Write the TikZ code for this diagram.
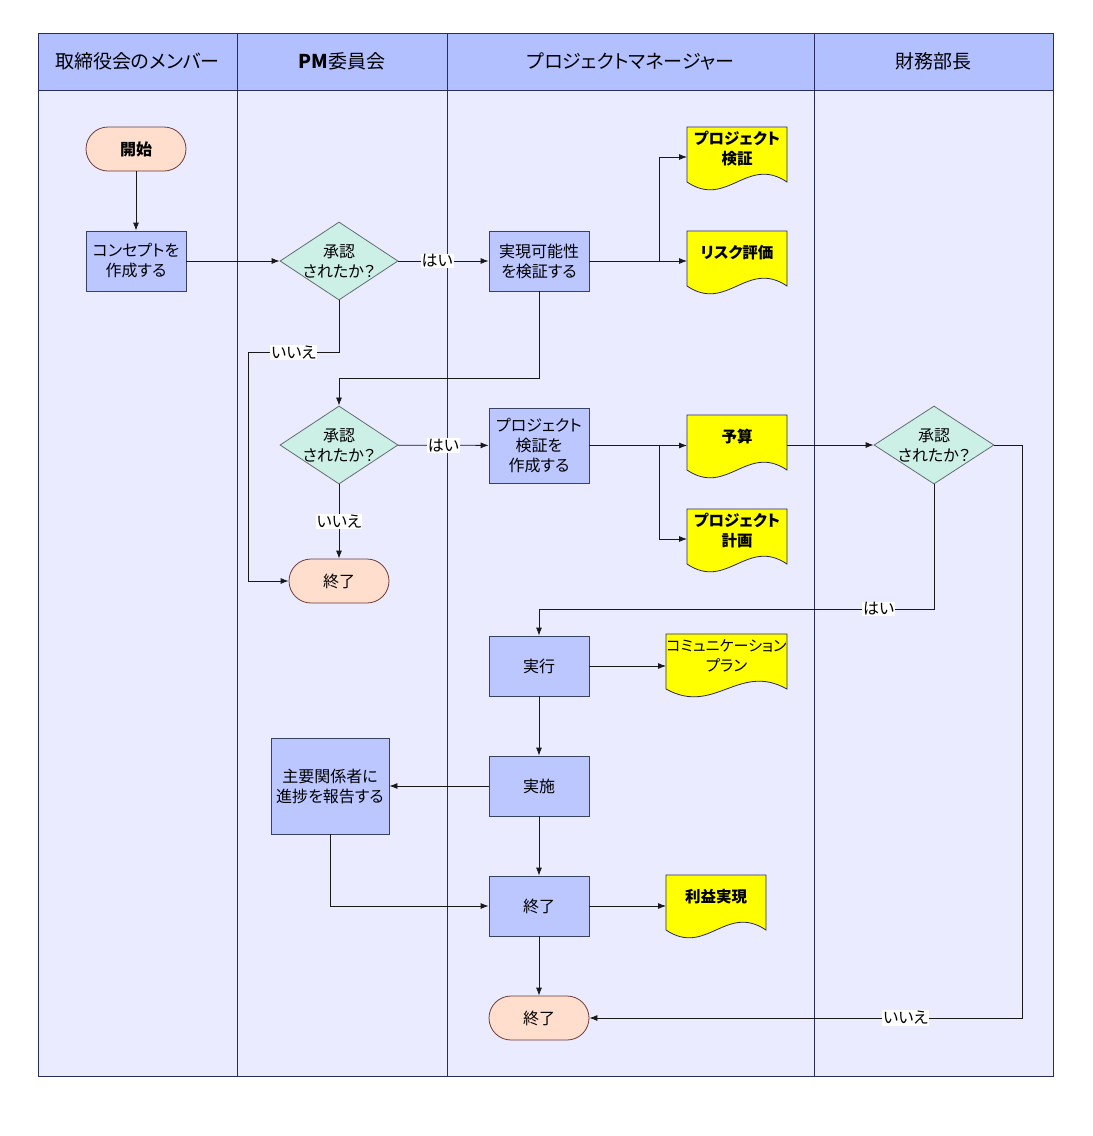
\documentclass[tikz,border=0pt]{standalone}
\usepackage{fontspec}
\setmainfont{Noto Sans CJK JP}[RawFeature=+palt]
\usetikzlibrary{arrows.meta,shapes.geometric}

\definecolor{lanehead}{RGB}{178,192,255}
\definecolor{lanebody}{RGB}{234,235,255}
\definecolor{lanedraw}{RGB}{40,45,95}
\definecolor{procfill}{RGB}{189,199,255}
\definecolor{procdraw}{RGB}{55,65,100}
\definecolor{termfill}{RGB}{255,222,205}
\definecolor{termdraw}{RGB}{110,60,60}
\definecolor{decfill}{RGB}{205,240,230}
\definecolor{decdraw}{RGB}{100,110,110}
\definecolor{docfill}{RGB}{255,255,0}
\definecolor{docdraw}{RGB}{40,40,90}
\definecolor{arrline}{RGB}{25,25,25}

% document shape: name, left x, top y, width, text
\newcommand\docnode[5]{%
  \filldraw[docshape] (#2,#3) -- ({#2+#4},#3) -- ({#2+#4},{#3+55})
    .. controls ({#2+0.6*#4},{#3+28}) and ({#2+0.4*#4},{#3+82}) .. (#2,{#3+55}) -- cycle;
  \node[doctext] (#1) at ({#2+#4/2},{#3+22}) {#5};
  \coordinate (#1-in) at (#2,{#3+30});
  \coordinate (#1-out) at ({#2+#4},{#3+30});
}

\begin{document}
\begin{tikzpicture}[x=1pt,y=-1pt,font=\fontsize{16}{20}\selectfont,
  lane/.style={draw=lanedraw,line width=0.9pt},
  head/.style={font=\fontsize{19}{22}\selectfont},
  proc/.style={draw=procdraw,fill=procfill,line width=0.8pt,minimum width=100pt,minimum height=60pt,align=center,inner sep=2pt},
  term/.style={draw=termdraw,fill=termfill,line width=0.8pt,rounded corners=22pt,minimum width=100pt,minimum height=44pt},
  decide/.style={diamond,draw=decdraw,fill=decfill,line width=0.8pt,minimum width=118pt,minimum height=74pt,inner sep=-7pt,align=center},
  docshape/.style={draw=docdraw,fill=docfill,line width=0.8pt},
  doctext/.style={align=center,font=\fontsize{15.5}{20}\selectfont\bfseries},
  lbl/.style={fill=white,inner sep=1pt},
  arr/.style={draw=arrline,line width=0.8pt,-{Latex[length=8pt,width=6pt]}}]
	\useasboundingbox (0,0) rectangle (1093,1136);
	\fill[lanehead] (38,33) rectangle (1053,90);
	\fill[lanebody] (38,90) rectangle (1053,1076);
	\draw[lane] (38,33) rectangle (1053,1076);
	\draw[lane] (38,90) -- (1053,90);
	\foreach \x in {237,447,814} \draw[lane] (\x,33) -- (\x,1076);
	\node[head] (h1) at (137.5,61) {取締役会のメンバー};
	\node[head] (h2) at (342,61) {\textbf{PM}委員会};
	\node[head] (h3) at (630.5,61) {プロジェクトマネージャー};
	\node[head] (h4) at (933.5,61) {財務部長};

	\node[term,font=\fontsize{16}{20}\selectfont\bfseries] (start) at (136,149) {開始};
	\node[proc] (concept) at (136,261) {コンセプトを\\作成する};
	\node[decide] (d1) at (339,261) {承認\\されたか？};
	\node[proc] (feas) at (539,261) {実現可能性\\を検証する};
	\docnode{doc1}{687}{127}{100}{プロジェクト\\検証}
	\docnode{doc2}{687}{231}{100}{リスク評価}
	\node[decide] (d2) at (339,445) {承認\\されたか？};
	\node[proc,minimum height=75pt] (pcreate) at (539,445.5) {プロジェクト\\検証を\\作成する};
	\docnode{doc3}{687}{415}{100}{予算}
	\docnode{doc4}{687}{509}{100}{プロジェクト\\計画}
	\node[decide,minimum width=120pt] (d3) at (934,445) {承認\\されたか？};
	\node[term] (end1) at (339,581) {終了};
	\node[proc] (exec) at (539,666) {実行};
	\docnode{doc5}{666}{634}{121}{\fontsize{15}{20}\selectfont\mdseries コミュニケーション\\\mdseries プラン}
	\node[proc] (impl) at (539,786) {実施};
	\node[proc,minimum width=118pt,minimum height=96pt] (rep) at (330,786) {主要関係者に\\進捗を報告する};
	\node[proc] (fin) at (539,906) {終了};
	\docnode{doc6}{666}{875}{100}{利益実現}
	\node[term] (end3) at (539,1018) {終了};

	\draw[arr] (start) -- (concept);
	\draw[arr] (concept) -- (d1);
	\draw[arr] (d1) -- node[lbl,pos=0.43]{はい} (feas);
	\draw[arr] (d1.south) -- ++(0,52) -- node[lbl]{いいえ} ++(-91,0) |- (end1.west);
	\draw[arr] (feas.east) -- ++(70,0) |- (doc1-in);
	\draw[arr] (feas.east) -- (feas.east -| doc2-in);
	\draw[arr] (feas.south) -- ++(0,87) -| (d2.north);
	\draw[arr] (d2) -- node[lbl,pos=0.5]{はい} (pcreate);
	\draw[arr] (d2) -- node[lbl]{いいえ} (end1);
	\draw[arr] (pcreate.east) -- (pcreate.east -| doc3-in);
	\draw[arr] (pcreate.east) -- ++(70,0) |- (doc4-in);
	\draw[arr] (doc3-out) -- (d3);
	\draw[arr] (d3.south) -- (d3.south |- 0,609) -- node[lbl,pos=0.14]{はい} (exec.north |- 0,609) -- (exec.north);
	\draw[arr] (d3.east) -- ++(28,0) |- node[lbl,pos=0.635]{いいえ} (end3.east);
	\draw[arr] (exec.east) -- (exec.east -| doc5-in);
	\draw[arr] (exec) -- (impl);
	\draw[arr] (impl) -- (rep);
	\draw[arr] (rep.south) |- (fin.west);
	\draw[arr] (impl) -- (fin);
	\draw[arr] (fin.east) -- (fin.east -| doc6-in);
	\draw[arr] (fin) -- (end3);
\end{tikzpicture}
\end{document}
